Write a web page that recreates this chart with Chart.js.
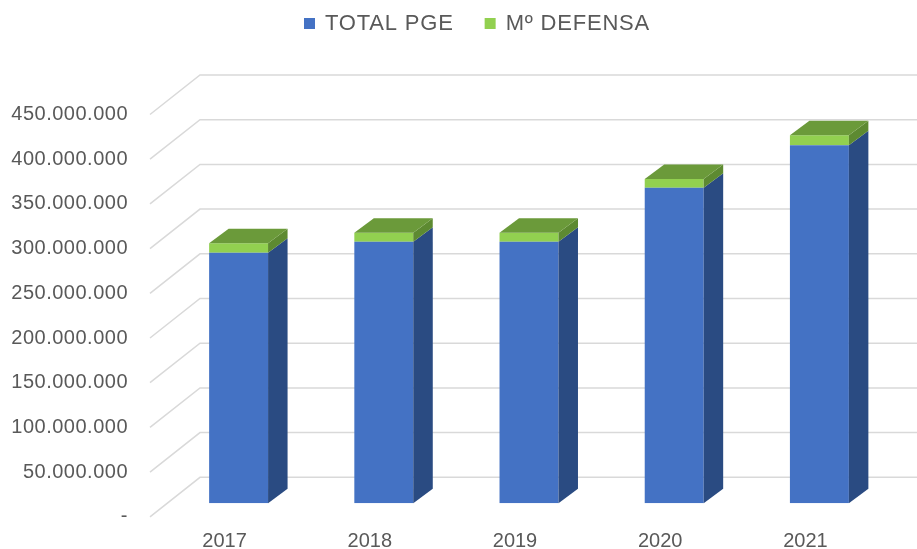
<!DOCTYPE html>
<html>
<head>
<meta charset="utf-8">
<script src="https://cdn.jsdelivr.net/npm/chart.js@4"></script>
<style>
  html, body { margin: 0; padding: 0; background: #ffffff; }
  #wrap { width: 917px; height: 549px; }
</style>
</head>
<body>
<div id="wrap"><canvas id="chart" width="917" height="549"></canvas></div>
<script>
// datos
const years = ['2017', '2018', '2019', '2020', '2021'];
const totalPge = [280300000, 292600000, 292600000, 353000000, 400400000];
const defensa = [10500000, 10100000, 10100000, 9800000, 11200000];
const seriesNames = ['TOTAL PGE', 'Mº DEFENSA'];
const yMax = 450000000;
const yStep = 50000000;

const FONT = '"Liberation Sans", Arial, sans-serif';
const TEXT = '#595959';
const GRID = '#d9d9d9';

// profundidad: plano frontal del eje, plano de barras (chartArea) y pared del fondo
const FRONT = { dx: -16, dy: 13.5 };
const BACK = { dx: 34, dy: -26 };
const BAR_DEPTH = { dx: 19.5, dy: -14.5 };

const faces = {
    0: { side: '#2a4b82', top: '#3a63ad' },
    1: { side: '#5d8a31', top: '#6b9a3a' }
};

function fmt(v) {
    if (v === 0) return '-';
    return String(v).replace(/\B(?=(\d{3})+(?!\d))/g, '.');
}

const depthPlugin = {
    id: 'depth3d',
    beforeDatasetsDraw(chart) {
        const ctx = chart.ctx;
        const area = chart.chartArea;
        const y = chart.scales.y;
        const x = chart.scales.x;
        ctx.save();
        ctx.strokeStyle = GRID;
        ctx.lineWidth = 1.5;
        for (let v = 0; v <= yMax; v += yStep) {
            const py = y.getPixelForValue(v);
            ctx.beginPath();
            ctx.moveTo(area.left + FRONT.dx, py + FRONT.dy);
            ctx.lineTo(area.left + BACK.dx, py + BACK.dy);
            ctx.lineTo(chart.width, py + BACK.dy);
            ctx.stroke();
        }
        // etiquetas eje Y
        ctx.fillStyle = TEXT;
        ctx.font = '20px ' + FONT;
        ctx.letterSpacing = '0.5px';
        ctx.textAlign = 'right';
        ctx.textBaseline = 'middle';
        for (let v = 0; v <= yMax; v += yStep) {
            ctx.fillText(fmt(v), 128, y.getPixelForValue(v) + FRONT.dy);
        }
        // etiquetas eje X
        ctx.letterSpacing = '0px';
        ctx.textAlign = 'center';
        years.forEach((lab, i) => {
            ctx.fillText(lab, x.getPixelForValue(i) - 14, 541);
        });
        ctx.restore();
    },
    afterDatasetsDraw(chart) {
        const ctx = chart.ctx;
        const last = chart.data.datasets.length - 1;
        ctx.save();
        chart.data.datasets.forEach((ds, di) => {
            const meta = chart.getDatasetMeta(di);
            meta.data.forEach(el => {
                const p = el.getProps(['x', 'y', 'base', 'width'], true);
                const l = p.x - p.width / 2;
                const r = p.x + p.width / 2;
                // cara lateral
                ctx.fillStyle = faces[di].side;
                ctx.beginPath();
                ctx.moveTo(r, p.y);
                ctx.lineTo(r + BAR_DEPTH.dx, p.y + BAR_DEPTH.dy);
                ctx.lineTo(r + BAR_DEPTH.dx, p.base + BAR_DEPTH.dy);
                ctx.lineTo(r, p.base);
                ctx.closePath();
                ctx.fill();
                // cara superior
                if (di === last) {
                    ctx.fillStyle = faces[di].top;
                    ctx.beginPath();
                    ctx.moveTo(l, p.y);
                    ctx.lineTo(l + BAR_DEPTH.dx, p.y + BAR_DEPTH.dy);
                    ctx.lineTo(r + BAR_DEPTH.dx, p.y + BAR_DEPTH.dy);
                    ctx.lineTo(r, p.y);
                    ctx.closePath();
                    ctx.fill();
                }
            });
        });
        ctx.restore();
    },
    afterDraw(chart) {
        // leyenda
        const ctx = chart.ctx;
        ctx.save();
        ctx.font = '22px ' + FONT;
        ctx.letterSpacing = '0.8px';
        ctx.textBaseline = 'middle';
        ctx.textAlign = 'left';
        let lx = 304;
        chart.data.datasets.forEach(ds => {
            ctx.fillStyle = ds.backgroundColor;
            ctx.fillRect(lx, 18, 11, 11);
            ctx.fillStyle = TEXT;
            ctx.fillText(ds.label, lx + 21, 24);
            lx += 21 + ctx.measureText(ds.label).width + 31;
        });
        ctx.restore();
    }
};

const ctx = document.getElementById('chart').getContext('2d');
new Chart(ctx, {
    type: 'bar',
    data: {
        labels: years,
        datasets: [
            { label: seriesNames[0], data: totalPge, backgroundColor: '#4472c4', borderWidth: 0 },
            { label: seriesNames[1], data: defensa, backgroundColor: '#92d050', borderWidth: 0 }
        ]
    },
    options: {
        responsive: false,
        animation: false,
        layout: { padding: { left: 166, right: 25, top: 101, bottom: 45.7 } },
        datasets: { bar: { categoryPercentage: 1, barPercentage: 0.406 } },
        plugins: { legend: { display: false }, tooltip: { enabled: false } },
        scales: {
            x: { stacked: true, display: false },
            y: { stacked: true, display: false, min: 0, max: yMax, ticks: { stepSize: yStep } }
        }
    },
    plugins: [depthPlugin]
});
</script>
</body>
</html>
